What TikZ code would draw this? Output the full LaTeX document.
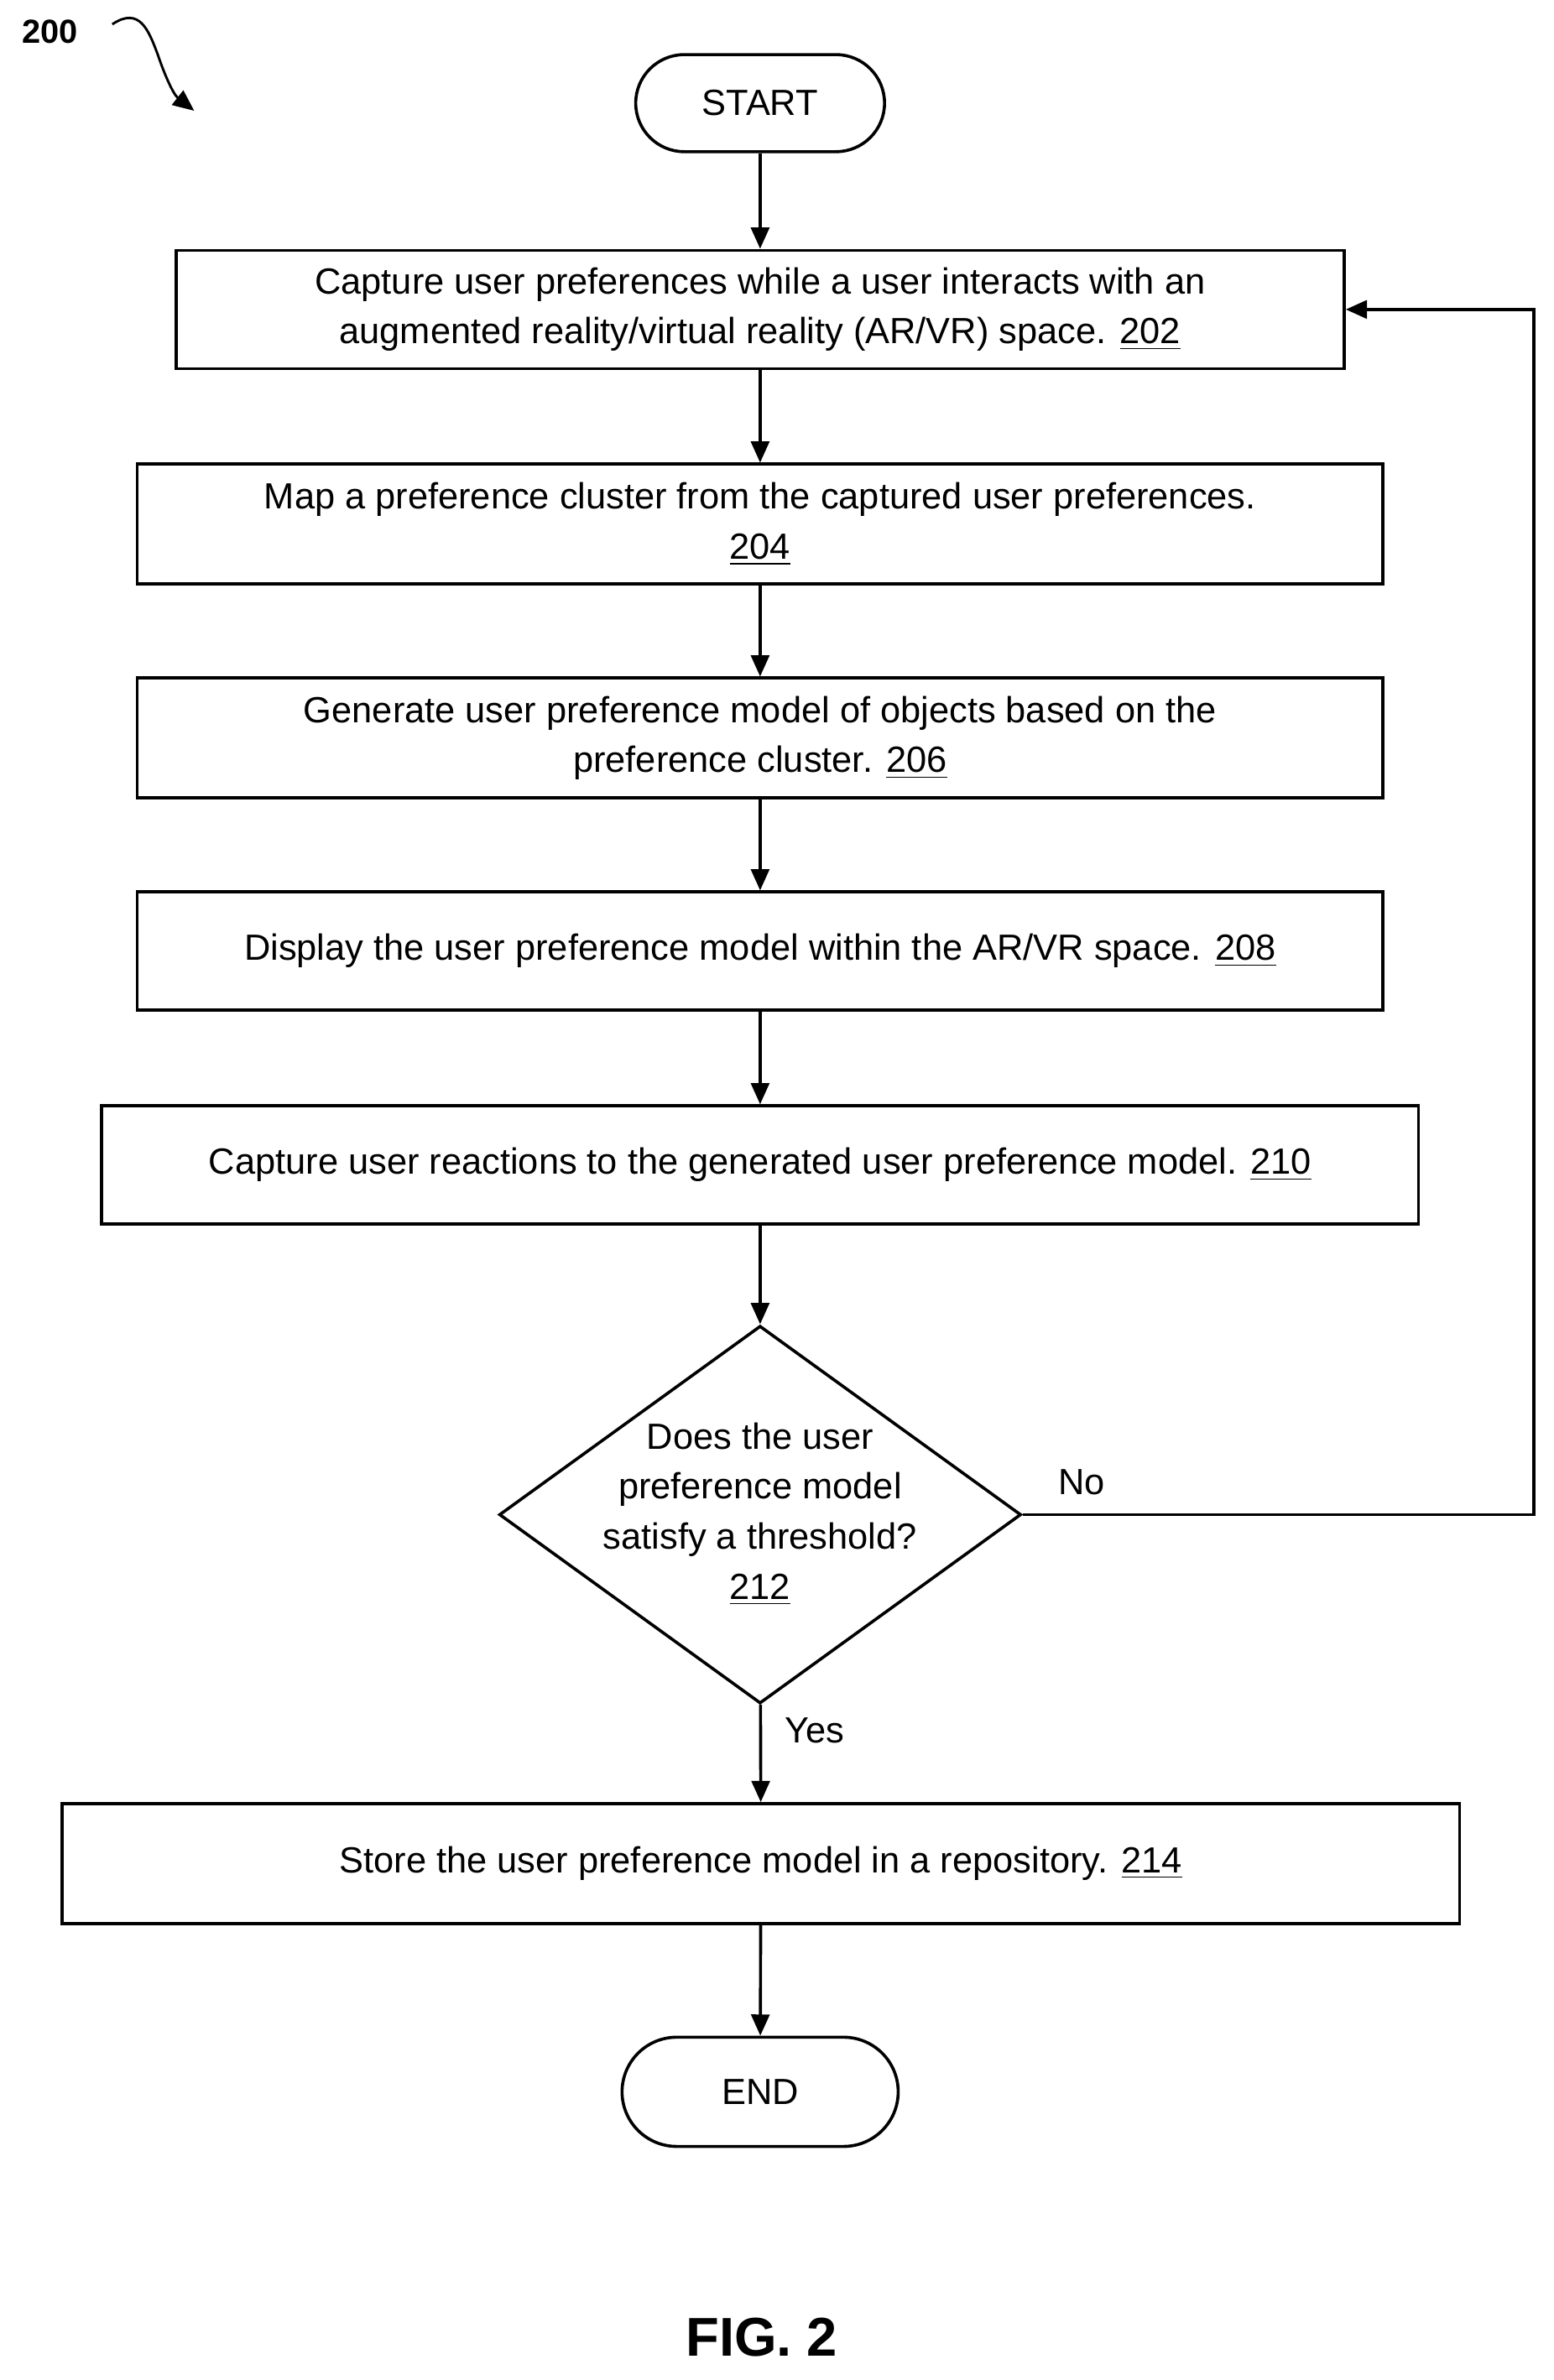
\documentclass[tikz,border=0pt]{standalone}
\usepackage{fontspec}
\setmainfont{Liberation Sans}
\usetikzlibrary{shapes.geometric,arrows.meta}
\tikzset{
	box/.style={draw,line width=1pt,align=center,inner sep=0pt,font=\fontsize{12}{16.5}\selectfont},
	term/.style={draw,line width=1pt,rounded corners=16pt,align=center,inner sep=0pt,font=\fontsize{12}{16.5}\selectfont},
	dec/.style={draw,line width=1pt,diamond,inner sep=0pt,minimum width=172pt,minimum height=124.5pt},
	flow/.style={line width=1pt,-{Triangle[length=7pt,width=6pt]}}
}
\begin{document}
\begin{tikzpicture}[x=0.5pt,y=0.5pt,yscale=-1,xscale=1]
	\useasboundingbox (0,0) rectangle (1024,1569);
	\node [term,minimum width=82pt,minimum height=32pt] (start) at (501,68) {START};
	\node [box,minimum width=385pt,minimum height=39pt] (s202) at (501,204) {Capture user preferences while a user interacts with an\\augmented reality/virtual reality (AR/VR) space. \underline{202}};
	\node [box,minimum width=410.5pt,minimum height=39.5pt] (s204) at (501,345.5) {Map a preference cluster from the captured user preferences.\\\underline{204}};
	\node [box,minimum width=410.5pt,minimum height=39.5pt] (s206) at (501,486.5) {Generate user preference model of objects based on the\\preference cluster. \underline{206}};
	\node [box,minimum width=410.5pt,minimum height=39pt] (s208) at (501,627) {Display the user preference model within the AR/VR space. \underline{208}};
	\node [box,minimum width=434pt,minimum height=39pt] (s210) at (501,768) {Capture user reactions to the generated user preference model. \underline{210}};
	\node [dec] (d212) at (501,998.5) {};
	\node [align=center,font=\fontsize{12}{16.5}\selectfont] (t212) at (501,998) {Does the user\\preference model\\satisfy a threshold?\\\underline{212}};
	\node [box,minimum width=460.5pt,minimum height=39.5pt] (s214) at (501.5,1228.5) {Store the user preference model in a repository. \underline{214}};
	\node [term,minimum width=91pt,minimum height=36pt,rounded corners=18pt] (end) at (501,1379) {END};
	\coordinate (c1) at (1011,998.5);
	\coordinate (c2) at (1011,204);
	\draw [flow] (start) -- (s202);
	\draw [flow] (s202) -- (s204);
	\draw [flow] (s204) -- (s206);
	\draw [flow] (s206) -- (s208);
	\draw [flow] (s208) -- (s210);
	\draw [flow] (s210) -- (d212);
	\draw [flow] (d212) -- (s214);
	\draw [flow] (s214) -- (end);
	\draw [flow] (d212.east) -- (c1) -- (c2) -- (s202.east);
	\node [font=\fontsize{12}{14}\selectfont] (no) at (713,977) {No};
	\node [font=\fontsize{12}{14}\selectfont] (yes) at (537,1141) {Yes};
	% figure label
	\node [font=\bfseries\fontsize{18}{20}\selectfont] (fig) at (502,1541) {FIG. 2};
	\node [font=\bfseries\fontsize{11}{13}\selectfont] (ref) at (33,21) {200};
	\coordinate (rtip) at (128,73);
	\draw [line width=0.8pt,-{Triangle[length=7pt,width=6pt]}] (74,16) .. controls (92,4) and (98,20) .. (104,36) .. controls (108,48) and (114,62) .. (rtip);
\end{tikzpicture}
\end{document}
